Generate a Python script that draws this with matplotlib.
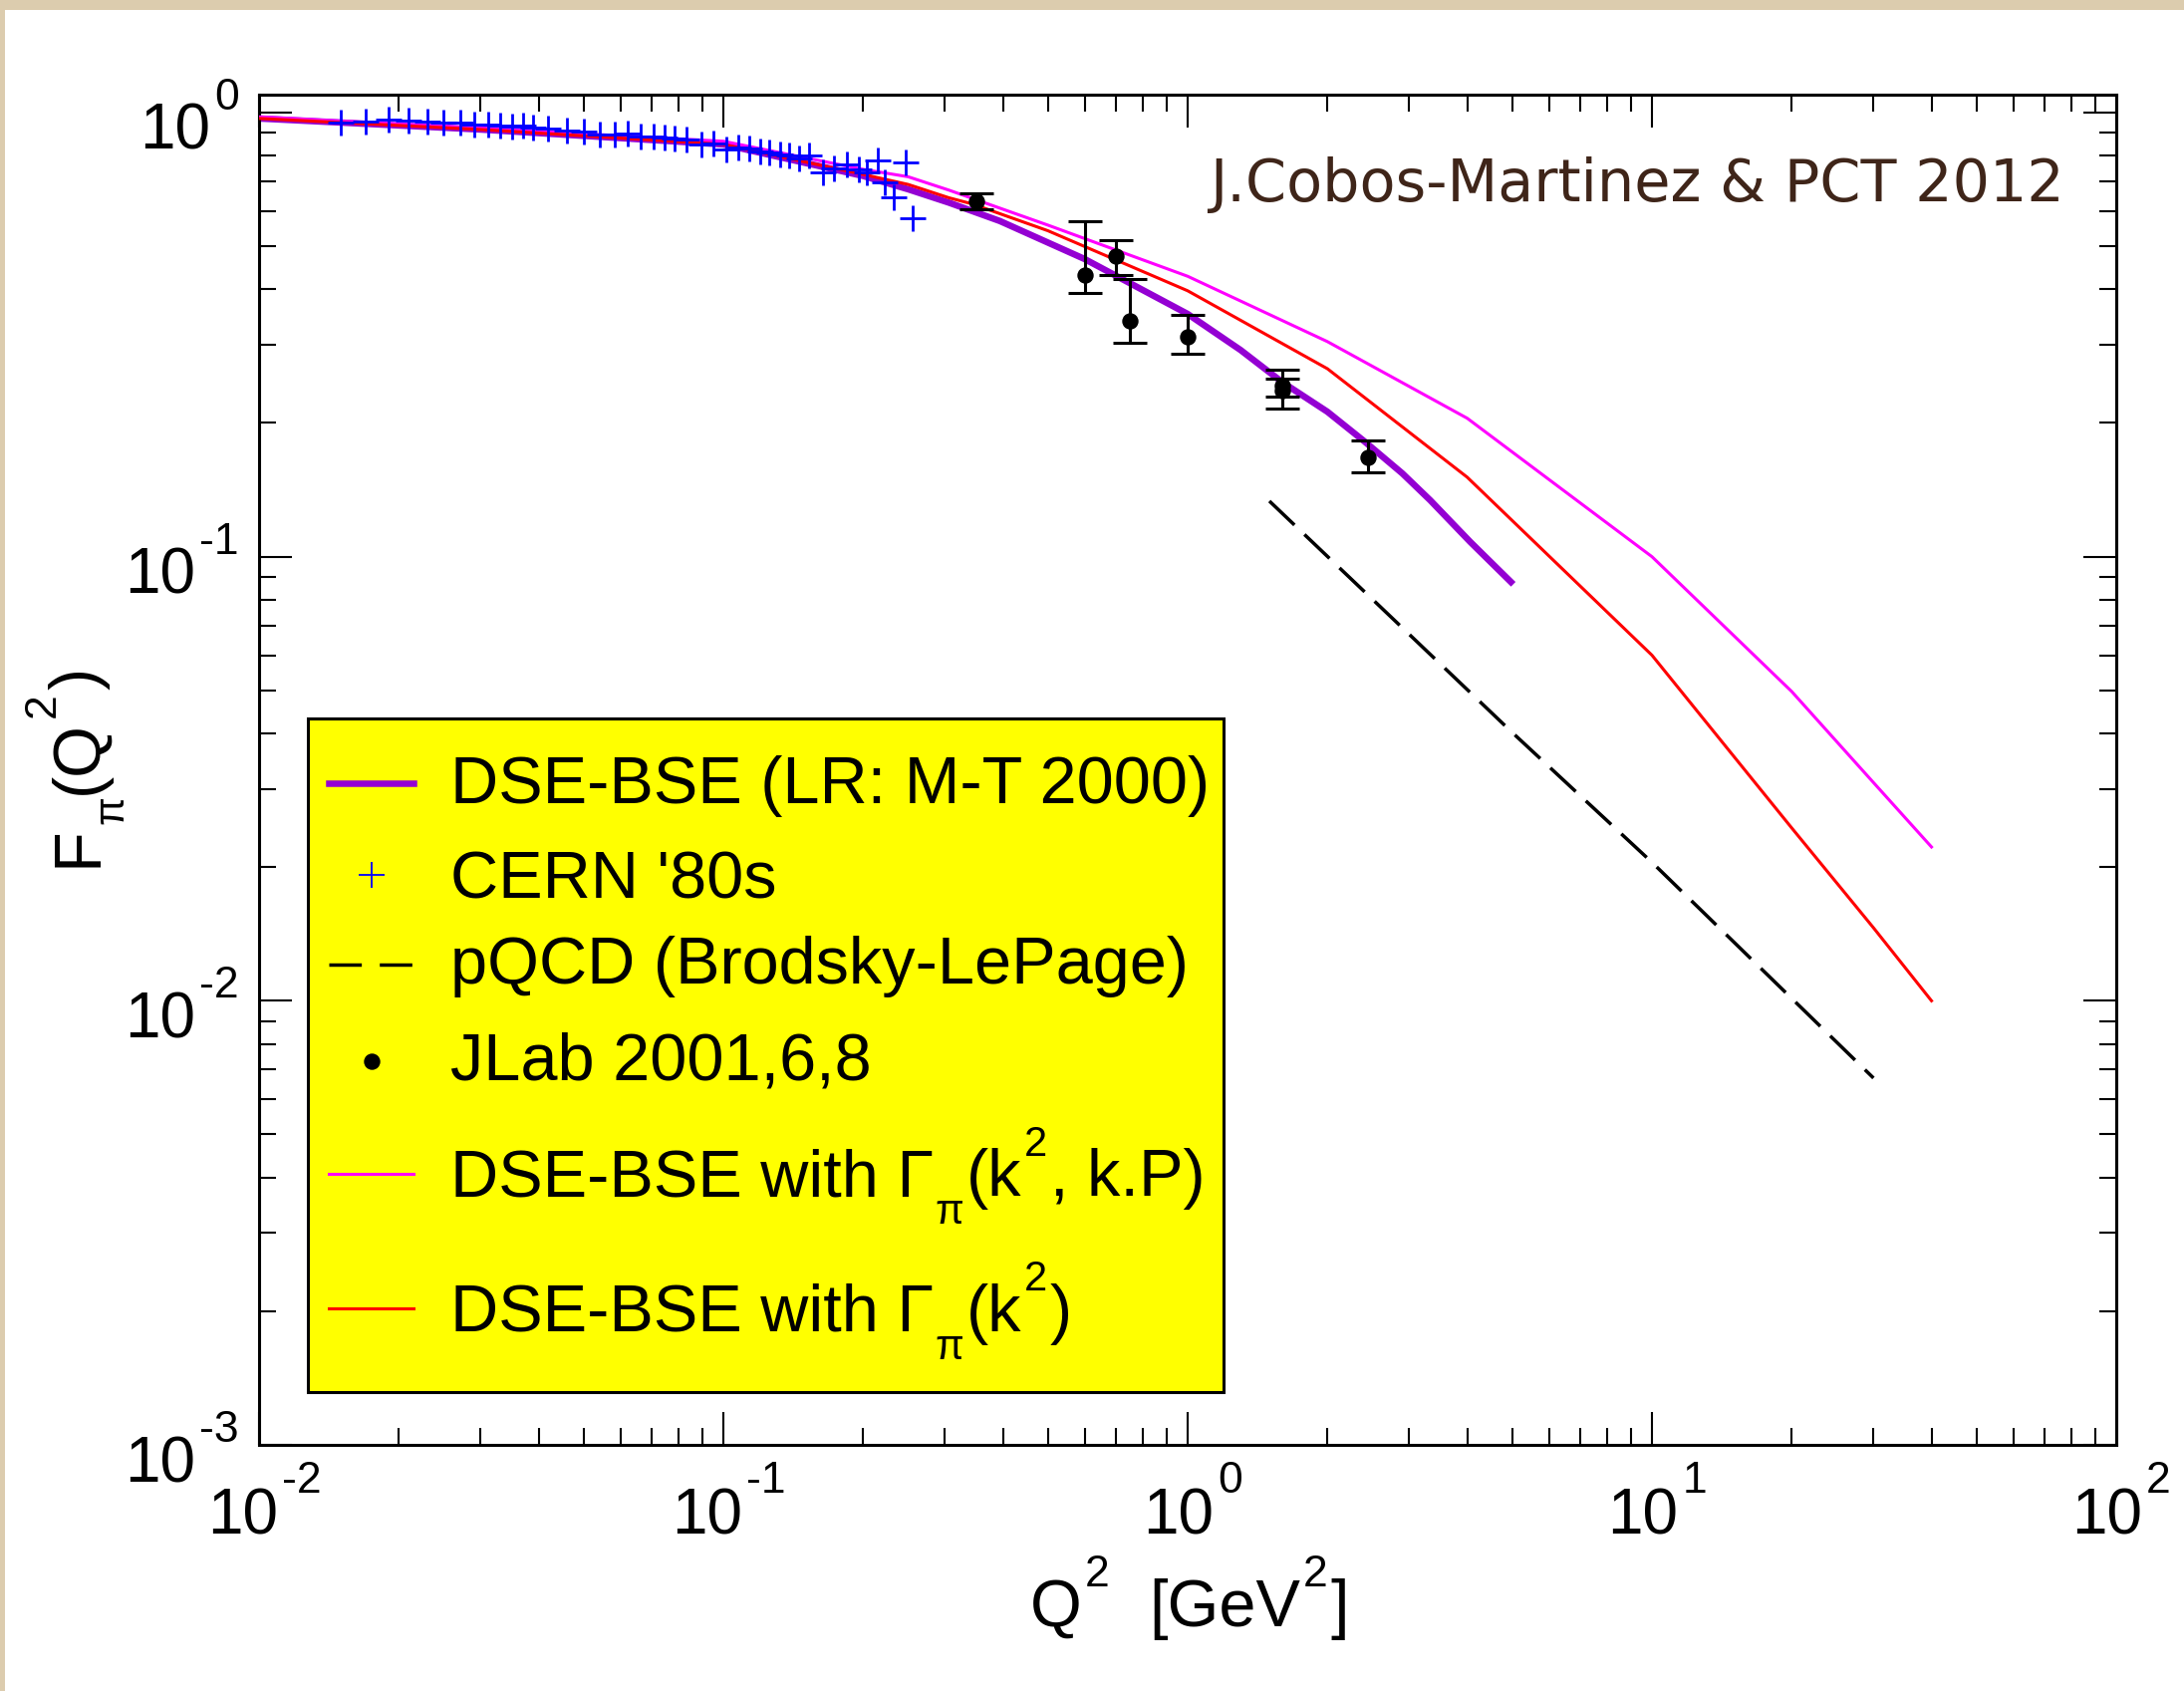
import matplotlib
matplotlib.use('Agg')
import matplotlib.pyplot as plt
from matplotlib.patches import Rectangle
from matplotlib.lines import Line2D
from matplotlib.ticker import LogLocator, NullFormatter
from matplotlib.transforms import IdentityTransform

plt.rcParams['font.family'] = ['Liberation Sans', 'DejaVu Sans']
plt.rcParams['axes.unicode_minus'] = False

# ---------------- data ----------------
# DSE-BSE (LR: M-T 2000)  (thick purple)
q_purple = [0.01, 0.03, 0.1, 0.2, 0.25, 0.306, 0.394, 0.6, 1.0, 1.3, 1.6, 2.0, 2.4, 2.9, 3.33, 4.06, 4.97]
f_purple = [0.970, 0.916, 0.848, 0.720, 0.672, 0.627, 0.570, 0.468, 0.352, 0.292, 0.247, 0.212, 0.182, 0.154, 0.134, 0.108, 0.0877]

# DSE-BSE with Gamma_pi(k^2, k.P)  (magenta)
q_magenta = [0.01, 0.03, 0.1, 0.2, 0.25, 0.306, 0.5, 1.0, 2.0, 4.0, 10.0, 20.0, 30.0, 40.0]
f_magenta = [0.978, 0.922, 0.862, 0.745, 0.717, 0.669, 0.558, 0.428, 0.305, 0.205, 0.100, 0.0497, 0.031, 0.0222]

# DSE-BSE with Gamma_pi(k^2)  (red)
q_red = [0.01, 0.03, 0.1, 0.2, 0.25, 0.306, 0.345, 0.5, 1.0, 2.0, 4.0, 10.0, 20.0, 30.0, 40.0]
f_red = [0.970, 0.916, 0.848, 0.726, 0.689, 0.643, 0.622, 0.542, 0.397, 0.265, 0.151, 0.060, 0.0245, 0.0146, 0.0100]

# pQCD (Brodsky-LePage)
q_pqcd = [1.5, 5.0, 10.0, 30.0]
f_pqcd = [0.1334, 0.0402, 0.0205, 0.0067]

# CERN '80s
q_cern = [0.0150, 0.0170, 0.0190, 0.0210, 0.0230, 0.0250, 0.0271, 0.0291, 0.0311, 0.0330,
          0.0351, 0.0371, 0.0390, 0.0420, 0.0461, 0.0501, 0.0543, 0.0585, 0.0622, 0.0663,
          0.0706, 0.0746, 0.0785, 0.0833, 0.0897, 0.0952, 0.1017, 0.1075, 0.1136, 0.1201,
          0.1255, 0.1326, 0.1386, 0.1456, 0.1532, 0.1636, 0.1730, 0.1849, 0.1954, 0.2042,
          0.2149, 0.2231, 0.2333, 0.2465, 0.2560]
f_cern = [0.951, 0.956, 0.964, 0.961, 0.955, 0.951, 0.948, 0.940, 0.938, 0.935,
          0.932, 0.933, 0.925, 0.919, 0.913, 0.908, 0.894, 0.894, 0.897, 0.885,
          0.882, 0.879, 0.876, 0.870, 0.846, 0.851, 0.826, 0.833, 0.829, 0.819,
          0.815, 0.805, 0.801, 0.789, 0.801, 0.732, 0.747, 0.764, 0.745, 0.732,
          0.782, 0.698, 0.645, 0.771, 0.577]

# JLab 2001,6,8
q_jlab = [0.35, 0.60, 0.70, 0.75, 1.00, 1.60, 1.60, 2.45]
f_jlab = [0.632, 0.431, 0.474, 0.340, 0.312, 0.243, 0.237, 0.167]
f_jlab_lo = [0.606, 0.393, 0.431, 0.303, 0.286, 0.216, 0.229, 0.155]
f_jlab_hi = [0.657, 0.570, 0.517, 0.422, 0.350, 0.264, 0.252, 0.183]

x_ticks = [1e-2, 1e-1, 1e0, 1e1, 1e2]
x_tick_exp = ['-2', '-1', '0', '1', '2']
y_ticks = [1e-3, 1e-2, 1e-1, 1e0]
y_tick_exp = ['-3', '-2', '-1', '0']

legend_plain = ["DSE-BSE (LR: M-T 2000)", "CERN '80s", "pQCD (Brodsky-LePage)", "JLab 2001,6,8"]
credit = "J.Cobos-Martinez & PCT 2012"

# ---------------- figure ----------------
W, H = 2192, 1697
fig = plt.figure(figsize=(W / 100, H / 100), dpi=100)
fig.patch.set_facecolor('#DCCCAE')
fig.add_artist(Rectangle((5 / W, 0), 1 - 5 / W, 1 - 10 / H, transform=fig.transFigure,
                         facecolor='white', edgecolor='none', zorder=-10))

AX_L, AX_R, AX_T, AX_B = 260, 2124, 95, 1450
ax = fig.add_axes([AX_L / W, 1 - AX_B / H, (AX_R - AX_L) / W, (AX_B - AX_T) / H])
ax.set_facecolor('white')
ax.set_xscale('log')
ax.set_yscale('log')
ax.set_xlim(1e-2, 1e2)
ax.set_ylim(1e-3, 1.0974)

PURPLE = '#9400D3'
MAGENTA = '#FF00FF'
RED = '#FF0000'
BLUE = '#0000FF'

ax.plot(q_purple, f_purple, color=PURPLE, lw=4.7, zorder=2)
ax.plot(q_magenta, f_magenta, color=MAGENTA, lw=2.2, zorder=3)
ax.plot(q_red, f_red, color=RED, lw=2.2, zorder=4)
ax.plot(q_pqcd, f_pqcd, color='black', lw=2.5, dashes=(10, 4), zorder=3)

ax.plot(q_cern, f_cern, ls='none', marker='+', ms=19.4, mew=2.0, color=BLUE, zorder=5)

yerr = [[f - lo for f, lo in zip(f_jlab, f_jlab_lo)], [hi - f for f, hi in zip(f_jlab, f_jlab_hi)]]
ax.errorbar(q_jlab, f_jlab, yerr=yerr, fmt='o', color='black', ms=10.8,
            elinewidth=2.2, capsize=12.2, capthick=2.2, zorder=6)

# ticks
ax.set_xticks(x_ticks)
ax.set_yticks(y_ticks)
ax.xaxis.set_minor_locator(LogLocator(base=10, subs=range(2, 10), numticks=100))
ax.yaxis.set_minor_locator(LogLocator(base=10, subs=range(2, 10), numticks=100))
ax.xaxis.set_minor_formatter(NullFormatter())
ax.yaxis.set_minor_formatter(NullFormatter())
ax.tick_params(which='both', direction='in', top=True, right=True, width=1.5, colors='black',
               labelbottom=False, labelleft=False)
ax.tick_params(which='major', length=23.8)
ax.tick_params(which='minor', length=12.2)
for s in ax.spines.values():
    s.set_linewidth(2.2)
ax.set_xlim(1e-2, 1e2)
ax.set_ylim(1e-3, 1.0974)

# ---------------- composed (xmgrace-like) texts ----------------
renderer = fig.canvas.get_renderer()


def compose(x0, y0, pieces, align='left', rotation=0, color='black', family=None, zorder=10):
    """pieces: (string, fontsize, rise_px, gap_px). x0,y0 in image px, y0 = baseline."""
    arts = []
    for s, fs, rise, gap in pieces:
        kw = {}
        if family is not None:
            kw['family'] = family
        t = fig.text(0, 0, s, transform=IdentityTransform(), fontsize=fs, ha='left',
                     va='baseline', rotation=rotation, rotation_mode='anchor', color=color,
                     zorder=zorder, **kw)
        bb = t.get_window_extent(renderer)
        adv = bb.width if rotation == 0 else bb.height
        arts.append((t, rise, gap, adv))
    total = sum(g + a for _, _, g, a in arts)
    pos = {'left': 0.0, 'center': -total / 2.0, 'right': -total}[align]
    for t, rise, gap, adv in arts:
        pos += gap
        if rotation == 0:
            t.set_position((x0 + pos, H - (y0 - rise)))
        else:
            t.set_position((x0 - rise, H - (y0 - pos)))
        pos += adv
    return arts


def data_to_img(x, y):
    dx, dy = ax.transData.transform((x, y))
    return dx, H - dy


TICK_FS, EXP_FS = 46, 32
for v, e in zip(y_ticks, y_tick_exp):
    _, ty = data_to_img(1e-2, v)
    compose(240, ty + 37, [("10", TICK_FS, 0, 0), (e, EXP_FS, 40, 4)], align='right')
for v, e in zip(x_ticks, x_tick_exp):
    tx, _ = data_to_img(v, 1e-3)
    compose(tx + 5, 1540, [("10", TICK_FS, 0, 0), (e, EXP_FS, 42, 4)], align='center')

# axis titles
compose(1194, 1632, [("Q", 48, 0, 0), ("2", 32, 40, 3), ("[GeV", 48, 0, 40),
                     ("2", 32, 40, 3), ("]", 48, 0, 3)], align='center')
compose(97, 770, [("F", 48, 0, 0), ("\u03c0", 30, -26, 2), ("(Q", 48, 0, 2),
                  ("2", 32, 42, 3), (")", 48, 0, 3)], align='center', rotation=90)

# ---------------- legend (drawn in axes fraction) ----------------
def fx(x):
    return (x - AX_L) / (AX_R - AX_L)


def fy(y):
    return (AX_B - y) / (AX_B - AX_T)


ax.add_patch(Rectangle((fx(309), fy(1397)), fx(1228) - fx(309), fy(721) - fy(1397),
                       transform=ax.transAxes, facecolor='#FFFF00', edgecolor='black',
                       lw=2.2, zorder=8, clip_on=False))

h_x0, h_x1, h_xc = 330, 415, 373
row_y = [786, 878, 967.7, 1065, 1177.5, 1313]
row_base = [805.6, 902, 987, 1083, 1200.5, 1336]


def hline(y, **kw):
    ax.add_line(Line2D([fx(h_x0), fx(h_x1)], [fy(y), fy(y)], transform=ax.transAxes,
                       zorder=9, clip_on=False, **kw))


hline(row_y[0], color=PURPLE, lw=4.7)
ax.add_line(Line2D([fx(h_xc)], [fy(row_y[1])], transform=ax.transAxes, ls='none',
                   marker='+', ms=19.4, mew=1.3, color=BLUE, zorder=9, clip_on=False))
hline(row_y[2], color='black', lw=2.5, dashes=(9.4, 5.2))
ax.add_line(Line2D([fx(h_xc)], [fy(row_y[3])], transform=ax.transAxes, ls='none',
                   marker='o', ms=10.8, color='black', zorder=9, clip_on=False))
hline(row_y[4], color=MAGENTA, lw=2.2)
hline(row_y[5], color=RED, lw=2.2)

TX = 451.5
for lab, yb in zip(legend_plain, row_base[:4]):
    compose(TX, yb, [(lab, 48, 0, 0)])
compose(TX, row_base[4], [("DSE-BSE with \u0393", 48, 0, 0), ("\u03c0", 30, -28, 2),
                          ("(k", 48, 0, 2), ("2", 30, 41, 3), (", k.P)", 48, 0, 3)])
compose(TX, row_base[5], [("DSE-BSE with \u0393", 48, 0, 0), ("\u03c0", 30, -28, 2),
                          ("(k", 48, 0, 2), ("2", 30, 41, 3), (")", 48, 0, 3)])

# ---------------- credit ----------------
t = fig.text(2071.5 / W, 1 - 201.7 / H, credit, ha='right', va='baseline',
             color='#3F2519', fontsize=44, family='DejaVu Sans')
wpx = t.get_window_extent(renderer).width
t.set_fontsize(44 * 858.0 / wpx)

fig.savefig('out.png', dpi=100, facecolor=fig.get_facecolor())
